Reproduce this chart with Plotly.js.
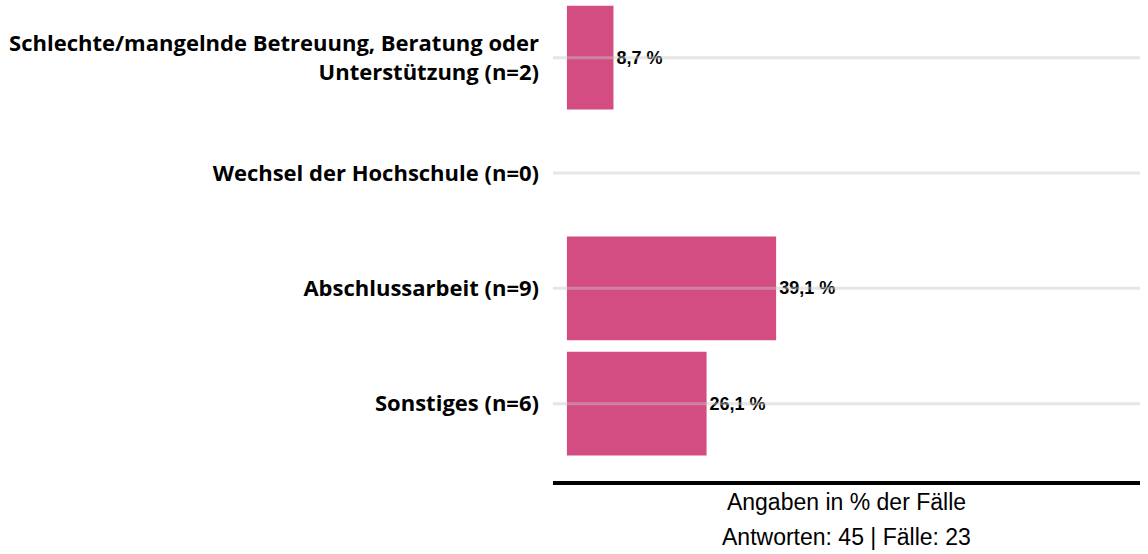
<!DOCTYPE html>
<html><head><meta charset="utf-8">
<script src="https://cdn.plot.ly/plotly-3.0.1.min.js"></script>
<style>html,body{margin:0;padding:0;background:#fff}</style>
</head><body><div id="chart" style="width:1148px;height:554px"></div>
<script>
const categories = [
  "Schlechte/mangelnde Betreuung, Beratung oder<br>Unterstützung (n=2)",
  "Wechsel der Hochschule (n=0)",
  "Abschlussarbeit (n=9)",
  "Sonstiges (n=6)"
];
const values = [8.7, 0, 39.1, 26.1];
const valueLabels = ["8,7 %", "", "39,1 %", "26,1 %"];
const xTitle = "Angaben in % der Fälle";
const footer = "Antworten: 45 | Fälle: 23";

const trace = {
  type: "bar", orientation: "h",
  x: values, y: categories,
  text: valueLabels, textposition: "outside", cliponaxis: false,
  textfont: {family: "Liberation Sans, Arial", size: 18, color: "#000", weight: "bold"},
  marker: {color: "#d44d82"},
  width: 0.9, hoverinfo: "none"
};

const gridShapes = categories.map(c => ({
  type: "line", xref: "paper", yref: "y", x0: 0, x1: 1, y0: c, y1: c,
  line: {color: "rgba(200,200,200,0.45)", width: 3}, layer: "above"
}));

const layout = {
  width: 1148, height: 554,
  margin: {l: 553, r: 8, t: 0, b: 73},
  paper_bgcolor: "#fff", plot_bgcolor: "#fff",
  showlegend: false,
  bargap: 0.1,
  xaxis: {
    range: [-2.6, 107.1], showgrid: false, zeroline: false, showticklabels: false,
    ticks: "", showline: true, linecolor: "#000", linewidth: 4,
    title: {text: xTitle, font: {family: "Liberation Sans, Arial", size: 23, color: "#000"}, standoff: 11}
  },
  yaxis: {
    type: "category", range: [3.67, -0.5], showgrid: false, zeroline: false,
    ticks: "", ticklabelstandoff: 13,
    tickfont: {family: "Open Sans", size: 22, color: "#000", weight: "bold"}
  },
  shapes: gridShapes,
  annotations: [{
    text: footer, xref: "paper", yref: "paper", x: 0.5, y: 0, yshift: -56,
    xanchor: "center", yanchor: "middle", showarrow: false,
    font: {family: "Liberation Sans, Arial", size: 23, color: "#000"}
  }]
};
Plotly.newPlot("chart", [trace], layout, {displayModeBar: false, staticPlot: true});
</script></body></html>
